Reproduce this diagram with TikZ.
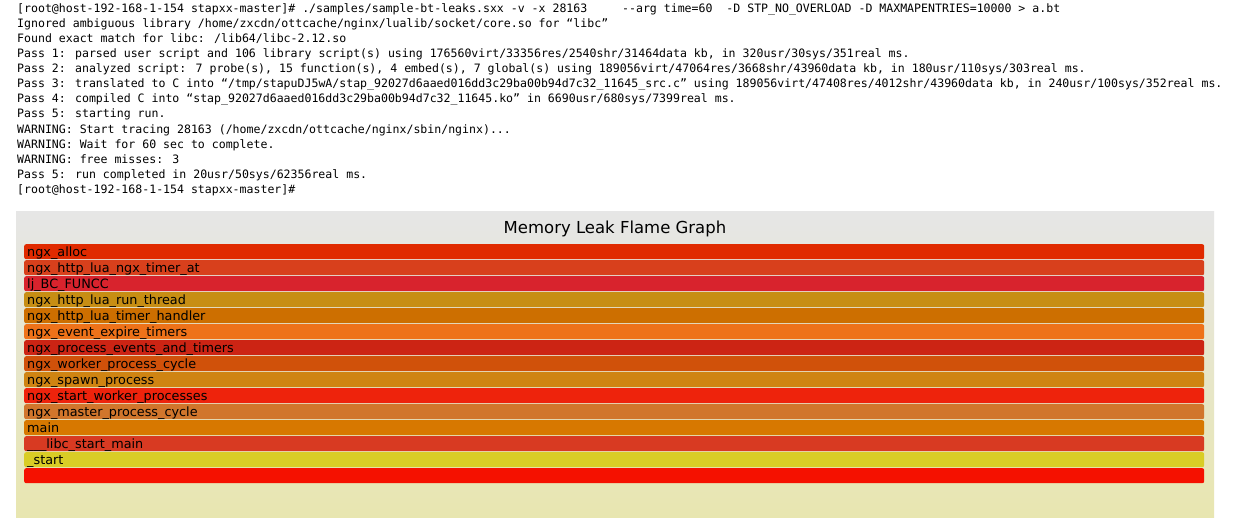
\documentclass[tikz,border=0pt]{standalone}
\usepackage{fontspec}
\newfontfamily\termfont{DejaVu Sans Mono}
\newfontfamily\flamefont{DejaVu Sans}
\definecolor{panTop}{HTML}{E6E6E6}
\definecolor{panBot}{HTML}{E8E6B0}
\definecolor{fA}{HTML}{E02A00}
\definecolor{fB}{HTML}{D8401C}
\definecolor{fC}{HTML}{D8232D}
\definecolor{fD}{HTML}{C78E14}
\definecolor{fE}{HTML}{CD6F00}
\definecolor{fF}{HTML}{EE7219}
\definecolor{fG}{HTML}{CC2414}
\definecolor{fH}{HTML}{D0510A}
\definecolor{fI}{HTML}{CF8412}
\definecolor{fJ}{HTML}{EE230C}
\definecolor{fK}{HTML}{D1762C}
\definecolor{fL}{HTML}{D77800}
\definecolor{fM}{HTML}{D83A22}
\definecolor{fN}{HTML}{D9CD26}
\definecolor{fO}{HTML}{F51100}
\begin{document}
\begin{tikzpicture}[x=1pt,y=-1pt,
  termline/.style={anchor=base west, inner sep=0pt, text=black,
    font=\termfont\fontsize{11.55}{14}\selectfont},
  flamebar/.style={rounded corners=2pt, draw=none, anchor=north west,
    minimum width=1180pt, minimum height=15pt, inner sep=0pt},
  barlabel/.style={anchor=base west, inner sep=0pt, text=black,
    font=\flamefont\fontsize{12.8}{15}\selectfont},
  titlestyle/.style={inner sep=0pt, text=black,
    font=\flamefont\fontsize{16.5}{20}\selectfont}]
\fill[white] (0,0) rectangle (1245,524);
\useasboundingbox (0,0) rectangle (1245,524);

% terminal output
\def\tb{12.5}
\node[termline] (t1) at (17,12.5) {[root@host-192-168-1-154 stapxx-master]\# ./samples/sample-bt-leaks.sxx -v -x 28163\ \ \ \ \ -{}-arg time=60\ \ -D STP\_NO\_OVERLOAD -D MAXMAPENTRIES=10000 > a.bt};
\node[termline] (t2) at (17,27.57) {Ignored ambiguous library /home/zxcdn/ottcache/nginx/lualib/socket/core.so for “libc”};
\node[termline] (t3) at (17,42.64) {Found exact match for libc: /lib64/libc-2.12.so};
\node[termline] (t4) at (17,57.71) {Pass 1: parsed user script and 106 library script(s) using 176560virt/33356res/2540shr/31464data kb, in 320usr/30sys/351real ms.};
\node[termline] (t5) at (17,72.78) {Pass 2: analyzed script: 7 probe(s), 15 function(s), 4 embed(s), 7 global(s) using 189056virt/47064res/3668shr/43960data kb, in 180usr/110sys/303real ms.};
\node[termline] (t6) at (17,87.85) {Pass 3: translated to C into “/tmp/stapuDJ5wA/stap\_92027d6aaed016dd3c29ba00b94d7c32\_11645\_src.c” using 189056virt/47408res/4012shr/43960data kb, in 240usr/100sys/352real ms.};
\node[termline] (t7) at (17,102.92) {Pass 4: compiled C into “stap\_92027d6aaed016dd3c29ba00b94d7c32\_11645.ko” in 6690usr/680sys/7399real ms.};
\node[termline] (t8) at (17,117.99) {Pass 5: starting run.};
\node[termline] (t9) at (17,133.06) {WARNING: Start tracing 28163 (/home/zxcdn/ottcache/nginx/sbin/nginx)...};
\node[termline] (t10) at (17,148.13) {WARNING: Wait for 60 sec to complete.};
\node[termline] (t11) at (17,163.2) {WARNING: free misses: 3};
\node[termline] (t12) at (17,178.27) {Pass 5: run completed in 20usr/50sys/62356real ms.};
\node[termline] (t13) at (17,193.34) {[root@host-192-168-1-154 stapxx-master]\#};

% flame graph panel
\shade[top color=panTop, bottom color=panBot] (16,211) rectangle (1214,517);
\node[titlestyle] (title) at (615,229) {Memory Leak Flame Graph};

\foreach \c/\t [count=\i from 0] in {
  fA/ngx\_alloc,
  fB/ngx\_http\_lua\_ngx\_timer\_at,
  fC/lj\_BC\_FUNCC,
  fD/ngx\_http\_lua\_run\_thread,
  fE/ngx\_http\_lua\_timer\_handler,
  fF/ngx\_event\_expire\_timers,
  fG/ngx\_process\_events\_and\_timers,
  fH/ngx\_worker\_process\_cycle,
  fI/ngx\_spawn\_process,
  fJ/ngx\_start\_worker\_processes,
  fK/ngx\_master\_process\_cycle,
  fL/main,
  fM/\_\_\_libc\_start\_main,
  fN/\_start,
  fO/{}}{
  \node[flamebar, fill=\c] (bar\i) at (24,{244+16*\i}) {};
  \node[barlabel] (lab\i) at (27,{256+16*\i}) {\t};
}
\end{tikzpicture}
\end{document}
